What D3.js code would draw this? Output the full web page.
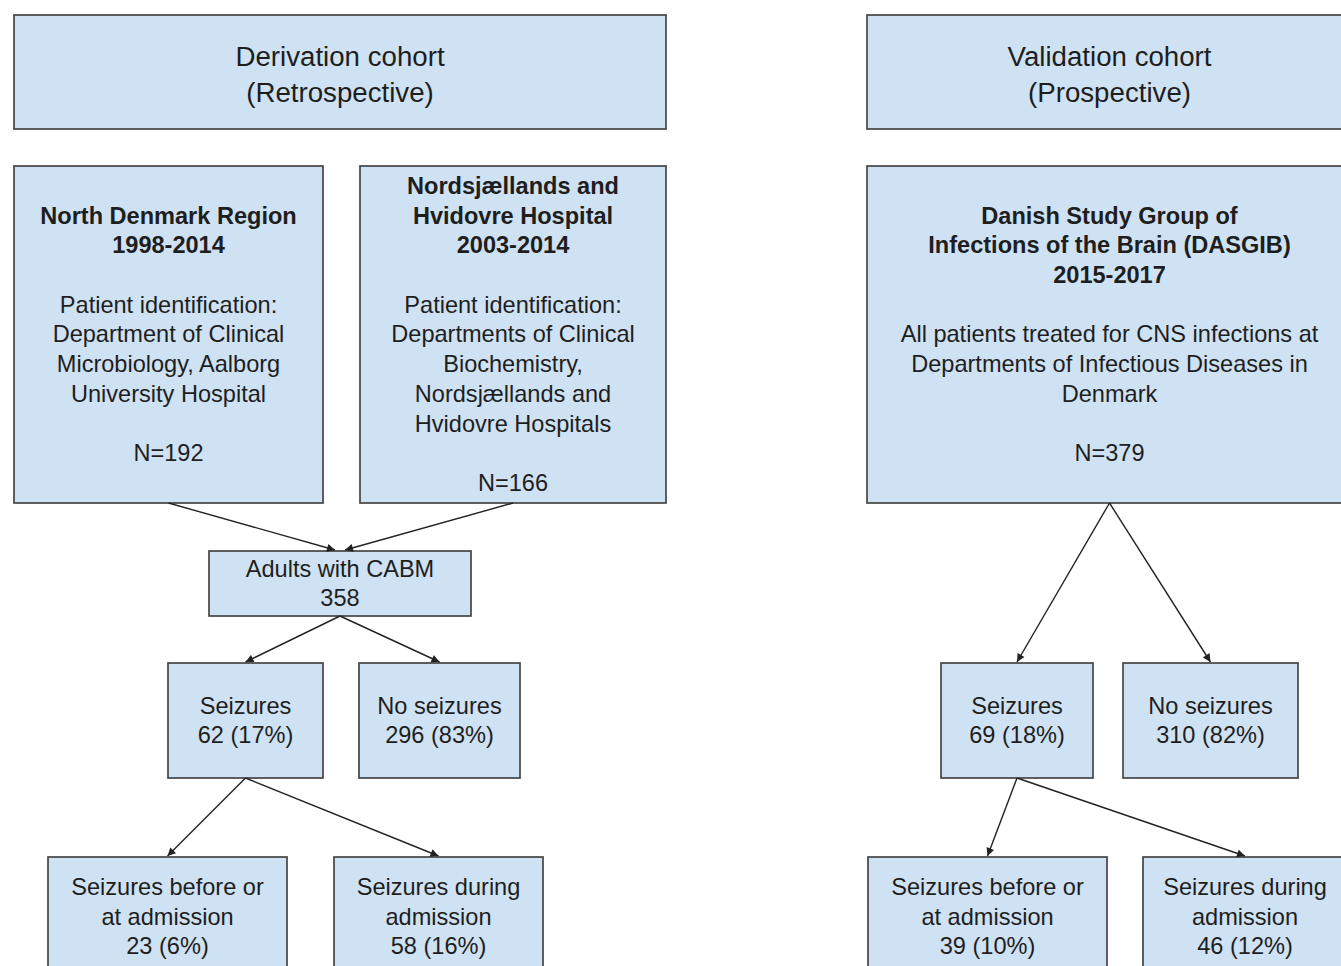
<!DOCTYPE html>
<html>
<head>
<meta charset="utf-8">
<script src="https://cdn.jsdelivr.net/npm/d3@7"></script>
<style>
  body { margin: 0; background: #fff; }
  text { font-family: "Liberation Sans", Arial, sans-serif; fill: #1e1e1e; }
</style>
</head>
<body>
<div id="chart"></div>
<script>
// node ids and the text in each box ("" = blank line)
var nodeIds = ["deriv", "valid", "north", "nords", "dasgib", "adults",
  "seizL", "noSeizL", "befL", "durL", "seizR", "noSeizR", "befR", "durR"];

var nodeLines = [
  ["Derivation cohort", "(Retrospective)"],
  ["Validation cohort", "(Prospective)"],
  ["North Denmark Region", "1998-2014", "", "Patient identification:",
   "Department of Clinical", "Microbiology, Aalborg", "University Hospital", "", "N=192"],
  ["Nordsjællands and", "Hvidovre Hospital", "2003-2014", "", "Patient identification:",
   "Departments of Clinical", "Biochemistry,", "Nordsjællands and", "Hvidovre Hospitals", "", "N=166"],
  ["Danish Study Group of", "Infections of the Brain (DASGIB)", "2015-2017", "",
   "All patients treated for CNS infections at", "Departments of Infectious Diseases in", "Denmark", "", "N=379"],
  ["Adults with CABM", "358"],
  ["Seizures", "62 (17%)"],
  ["No seizures", "296 (83%)"],
  ["Seizures before or", "at admission", "23 (6%)"],
  ["Seizures during", "admission", "58 (16%)"],
  ["Seizures", "69 (18%)"],
  ["No seizures", "310 (82%)"],
  ["Seizures before or", "at admission", "39 (10%)"],
  ["Seizures during", "admission", "46 (12%)"]
];

// how many leading lines are bold
var nodeBold = [0, 0, 2, 3, 3, 0, 0, 0, 0, 0, 0, 0, 0, 0];

// arrows: source -> target
var linkSource = ["north", "nords", "adults", "adults", "seizL", "seizL",
  "dasgib", "dasgib", "seizR", "seizR"];
var linkTarget = ["adults", "adults", "seizL", "noSeizL", "befL", "durL",
  "seizR", "noSeizR", "befR", "durR"];

// ---- layout (pixels) ----
var width = 1341, height = 966;

// box rectangles [x0, y0, x1, y1]
var layout = {
  deriv:   [14, 15, 666, 129],
  valid:   [867, 15, 1352, 129],
  north:   [14, 166, 323, 503],
  nords:   [360, 166, 666, 503],
  dasgib:  [867, 166, 1352, 503],
  adults:  [209, 551, 471, 616],
  seizL:   [168, 663, 323, 778],
  noSeizL: [359, 663, 520, 778],
  befL:    [48, 857, 287, 990],
  durL:    [334, 857, 543, 990],
  seizR:   [941, 663, 1093, 778],
  noSeizR: [1123, 663, 1298, 778],
  befR:    [868, 857, 1107, 990],
  durR:    [1143, 857, 1347, 990]
};

// small sideways offsets where two arrows meet on one box
var targetOffset = { "north-adults": -5, "nords-adults": 5 };

var titleSize = 27, bodySize = 23;

var nodes = nodeIds.map(function(id, i) {
  var r = layout[id];
  return {
    id: id, lines: nodeLines[i], bold: nodeBold[i],
    x0: r[0], y0: r[1], x1: r[2], y1: r[3],
    big: (id == "deriv" || id == "valid")
  };
});
var byId = {};
nodes.forEach(function(d) { byId[d.id] = d; });

var links = linkSource.map(function(s, i) {
  return { source: byId[s], target: byId[linkTarget[i]] };
});

var svg = d3.select("#chart")
  .append("svg")
    .attr("width", width)
    .attr("height", height);

svg.append("rect")
  .attr("width", width)
  .attr("height", height)
  .attr("fill", "#fff");

// arrow head
svg.append("defs").append("marker")
    .attr("id", "arrow")
    .attr("viewBox", "0 0 10 10")
    .attr("refX", 10)
    .attr("refY", 5)
    .attr("markerWidth", 10)
    .attr("markerHeight", 8)
    .attr("markerUnits", "userSpaceOnUse")
    .attr("orient", "auto")
  .append("path")
    .attr("d", "M0,0L10,5L0,10z")
    .attr("fill", "#222");

// draw boxes
var box = svg.append("g")
    .attr("class", "nodes")
  .selectAll("g")
  .data(nodes)
  .enter()
  .append("g");

box.append("rect")
  .attr("x", function(d) { return d.x0; })
  .attr("y", function(d) { return d.y0; })
  .attr("width", function(d) { return d.x1 - d.x0; })
  .attr("height", function(d) { return d.y1 - d.y0; })
  .attr("fill", "#cfe2f3")
  .attr("stroke", "#454545")
  .attr("stroke-width", 1.7);

// text, centred in the box (bottom boxes are cut by the page, so use a fixed top)
box.each(function(d) {
  var g = d3.select(this);
  var size = d.big ? titleSize : bodySize;
  var lh = d.big ? 35.5 : 29.7;
  var n = d.lines.length;
  var cx = (d.x0 + d.x1) / 2;
  var cy = d.y1 > height ? d.y0 + 30 + (n - 1) * lh / 2 : (d.y0 + d.y1) / 2 + (d.big ? 2.5 : 0);
  var top = cy - (n - 1) * lh / 2;
  d.lines.forEach(function(line, i) {
    if (line == "") return;
    g.append("text")
      .attr("transform", "translate(" + cx + "," + (top + i * lh) + ") scale(1.025,1)")
      .attr("text-anchor", "middle")
      .attr("dominant-baseline", "central")
      .attr("font-size", size)
      .attr("font-weight", i < d.bold ? "bold" : "normal")
      .text(line);
  });
});

// draw arrows
svg.append("g")
    .attr("class", "links")
  .selectAll("line")
  .data(links)
  .enter()
  .append("line")
    .attr("x1", function(d) { return (d.source.x0 + d.source.x1) / 2; })
    .attr("y1", function(d) { return d.source.y1; })
    .attr("x2", function(d) {
      var off = targetOffset[d.source.id + "-" + d.target.id] || 0;
      return (d.target.x0 + d.target.x1) / 2 + off;
    })
    .attr("y2", function(d) { return d.target.y0 - 1; })
    .attr("stroke", "#222")
    .attr("stroke-width", 1.4)
    .attr("marker-end", "url(#arrow)");
</script>
</body>
</html>
